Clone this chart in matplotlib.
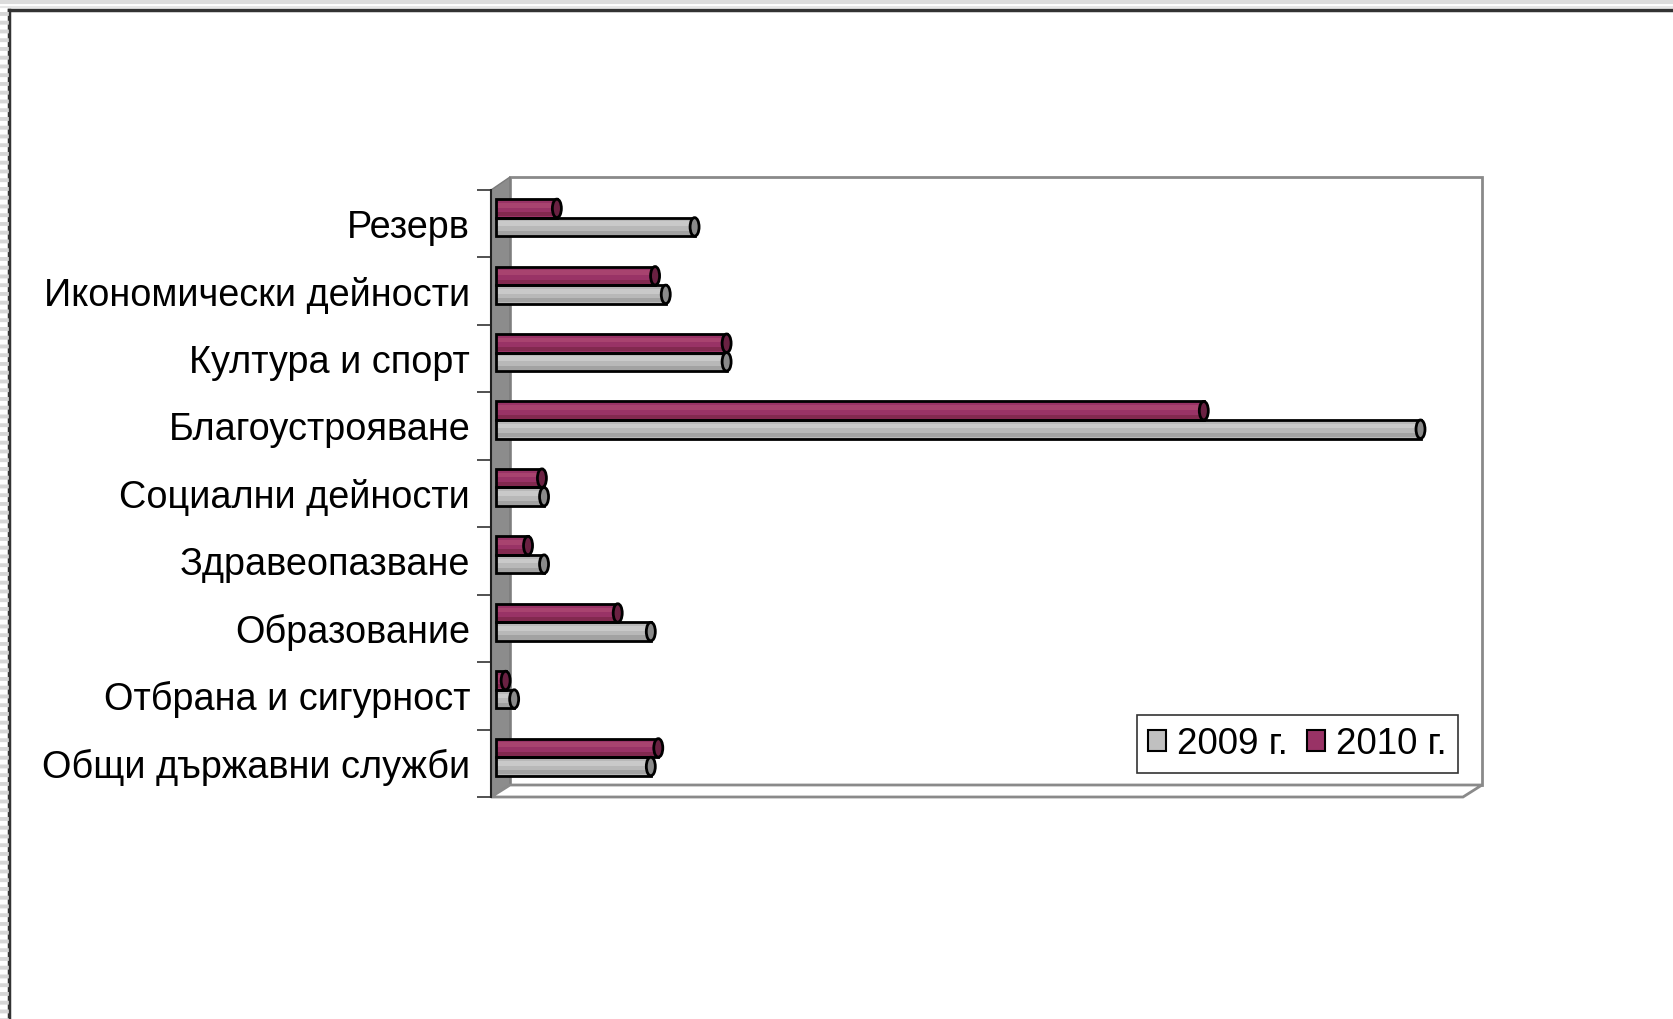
import matplotlib
matplotlib.use('Agg')
import matplotlib.pyplot as plt
from matplotlib.patches import Polygon, Rectangle, Ellipse, Patch
import numpy as np

plt.rcParams['font.family'] = ['Liberation Sans', 'DejaVu Sans']

# категории отдолу нагоре
categories = ['Общи държавни служби', 'Отбрана и сигурност', 'Образование',
              'Здравеопазване', 'Социални дейности', 'Благоустрояване',
              'Култура и спорт', 'Икономически дейности', 'Резерв']
values_2009 = [145, 17, 145, 45, 45, 866, 216, 159, 186]
values_2010 = [152, 9, 114, 30, 43, 663, 216, 149, 57]
series_names = ['2009 г.', '2010 г.']

W, H = 1674, 1019
fig = plt.figure(figsize=(W / 100, H / 100), dpi=100)

# фон - стени на 3D диаграмата, в пиксели
bg = fig.add_axes([0, 0, 1, 1], zorder=-1)
bg.set_xlim(0, W)
bg.set_ylim(H, 0)
bg.axis('off')
bg.add_patch(Rectangle((510, 177), 972, 608, facecolor='white', edgecolor='#8a8a8a', lw=2))
bg.add_patch(Polygon([(491, 190), (510, 177), (510, 785), (491, 797)], closed=True,
                     facecolor='#8c8c8c', edgecolor='#7a7a7a', lw=1))
bg.add_patch(Polygon([(491, 797), (510, 785), (1482, 785), (1463, 797)], closed=True,
                     facecolor='white', edgecolor='#8a8a8a', lw=2))
# рамка на листа
bg.plot([9, W], [10, 10], color='#333333', lw=2.5)
bg.plot([9, 9], [10, H], color='#333333', lw=2.5)
bg.plot([0, W], [2, 2], color='#dcdcdc', lw=3)
bg.plot([0, W], [7, 7], color='#e6e6e6', lw=1.5)
bg.plot([4, 4], [12, H], color='#d6d6d6', lw=7, dashes=(0.4, 0.5))

ax = fig.add_axes([491 / W, 1 - 797 / H, (1463 - 491) / W, (797 - 190) / H])
ax.set_facecolor('none')

pos = np.arange(len(categories))
h = 0.275
shift = 0.09
xmin, xmax = -4.7, 905.8
ax.set_xlim(xmin, xmax)
ax.set_ylim(-0.5, len(categories) - 0.5)
cap_w = 9 * (xmax - xmin) / 972

styles = [
    (values_2009, '#b8b8b8', '#c9c9c9', '#a2a2a2', '#8a8a8a', -h / 2),
    (values_2010, '#993366', '#a8436f', '#82294f', '#6a2142', h / 2),
]
for vals, col, hi, lo, cap, off in styles:
    y = pos + shift + off
    vals = np.array(vals)
    ax.barh(y, vals, height=h, color=col, linewidth=0, zorder=3)
    ax.barh(y + h * 0.17, vals, height=h * 0.25, color=hi, linewidth=0, zorder=3.1)
    ax.barh(y - h * 0.32, vals, height=h * 0.22, color=lo, linewidth=0, zorder=3.1)
    ax.barh(y, vals, height=h, fill=False, edgecolor='black', linewidth=2.0, zorder=3.3)
    for v, yy in zip(vals, y):
        ax.add_patch(Ellipse((v, yy), cap_w, h, facecolor=cap, edgecolor='black',
                             lw=2.0, zorder=3.5))

ax.set_yticks(pos)
ax.set_yticklabels(categories, fontsize=27.3)
ax.set_yticks(np.arange(-0.5, len(categories)), minor=True)
ax.tick_params(axis='y', which='major', length=0, pad=15)
ax.tick_params(axis='y', which='minor', length=10, width=1.2, color='#333333')
ax.set_xticks([])
for s in ['top', 'right', 'bottom']:
    ax.spines[s].set_visible(False)
ax.spines['left'].set_color('#222222')
ax.spines['left'].set_linewidth(1.5)

handles = [Patch(facecolor='#c0c0c0', edgecolor='black', lw=1.5),
           Patch(facecolor='#993366', edgecolor='black', lw=1.5)]
leg = fig.legend(handles, series_names, loc='center', ncol=2, fontsize=26.5,
                 bbox_to_anchor=(1297.5 / W, 1 - 744 / H), frameon=True, fancybox=False,
                 handlelength=0.5, handleheight=0.5, handletextpad=0.3, columnspacing=0.5,
                 borderpad=0.3, edgecolor='black')
leg.get_frame().set_linewidth(1.2)

fig.savefig('out.png', dpi=100)
